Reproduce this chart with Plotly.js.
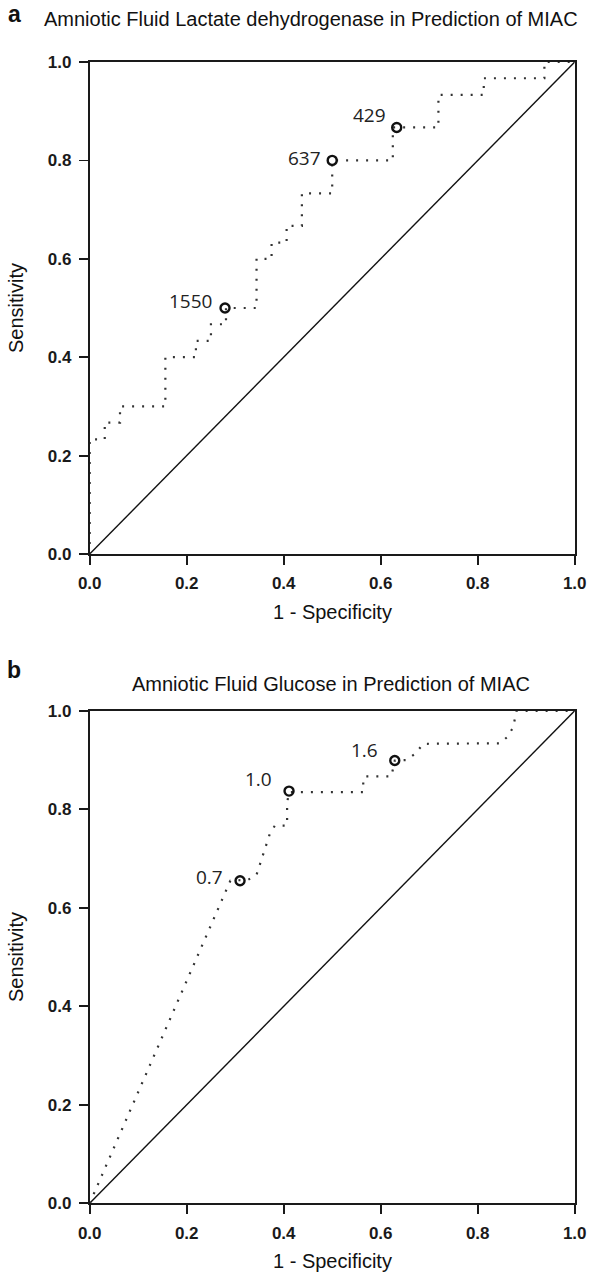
<!DOCTYPE html>
<html>
<head>
<meta charset="utf-8">
<script src="https://cdn.plot.ly/plotly-3.0.1.min.js"></script>
<style>html,body{margin:0;padding:0;background:#fff;}#chart{width:590px;height:1277px;}</style>
</head>
<body>
<div id="chart"></div>
<script>
// Panel a: Lactate dehydrogenase ROC
const fprA = [0, 0, 0.031, 0.031, 0.0625, 0.0625, 0.156, 0.156, 0.219, 0.219, 0.25, 0.25, 0.281, 0.281, 0.344, 0.344, 0.375, 0.375, 0.406, 0.406, 0.4375, 0.4375, 0.5, 0.5, 0.625, 0.625, 0.719, 0.719, 0.8125, 0.8125, 0.9375, 0.9375, 1.0];
const tprA = [0, 0.233, 0.233, 0.267, 0.267, 0.3, 0.3, 0.4, 0.4, 0.433, 0.433, 0.467, 0.467, 0.5, 0.5, 0.6, 0.6, 0.633, 0.633, 0.667, 0.667, 0.733, 0.733, 0.8, 0.8, 0.867, 0.867, 0.933, 0.933, 0.967, 0.967, 1.0, 1.0];
const cutXA = [0.279, 0.5, 0.633];
const cutYA = [0.5, 0.8, 0.867];
const cutLabelsA = ["1550", "637", "429"];

// Panel b: Glucose ROC
const fprB = [0, 0.29, 0.327, 0.344, 0.372, 0.382, 0.407, 0.407, 0.411, 0.564, 0.564, 0.567, 0.622, 0.629, 0.653, 0.671, 0.688, 0.846, 0.86, 0.873, 0.88, 1.0];
const tprB = [0, 0.655, 0.657, 0.667, 0.752, 0.767, 0.767, 0.813, 0.835, 0.835, 0.859, 0.867, 0.867, 0.899, 0.9, 0.913, 0.933, 0.934, 0.946, 0.966, 1.0, 1.0];
const cutXB = [0.31, 0.411, 0.629];
const cutYB = [0.655, 0.837, 0.899];
const cutLabelsB = ["0.7", "1.0", "1.6"];

const refLine = [0, 1];
const tickVals = [0, 0.2, 0.4, 0.6, 0.8, 1.0];
const tickText = ["0.0", "0.2", "0.4", "0.6", "0.8", "1.0"];

const titleA = "Amniotic Fluid Lactate dehydrogenase in Prediction of MIAC";
const titleB = "Amniotic Fluid Glucose in Prediction of MIAC";

const labelShiftA = [[-11, 7], [-9, 2], [-9, 12]];
const labelShiftB = [[-15, 4], [-15, 12], [-15, 11]];

const W = 590, H = 1277;
const xDom = [89.7 / W, 574.7 / W];
const yDomA = [(H - 554) / H, (H - 62) / H];
const yDomB = [(H - 1203.3) / H, (H - 710.8) / H];

const AX_COL = '#1a1a1a';
const tickFont = {family: 'Liberation Sans, Arial, sans-serif', size: 17, color: '#1a1a1a', weight: 'bold'};

function axisX(anchor) {
  return {domain: xDom, range: [0, 1], anchor: anchor, showgrid: false, zeroline: false,
    showline: true, mirror: true, linecolor: AX_COL, linewidth: 1.8,
    ticks: 'outside', ticklen: 9, tickwidth: 1.8, tickcolor: AX_COL, ticklabelstandoff: 4,
    tickvals: tickVals, ticktext: tickText, tickfont: tickFont, fixedrange: true};
}
function axisY(anchor, dom) {
  return {domain: dom, range: [0, 1], anchor: anchor, showgrid: false, zeroline: false,
    showline: true, mirror: true, linecolor: AX_COL, linewidth: 1.8,
    ticks: 'outside', ticklen: 9, tickwidth: 1.8, tickcolor: AX_COL, ticklabelstandoff: 4,
    tickvals: tickVals, ticktext: tickText, tickfont: tickFont, fixedrange: true};
}

const dotLine = {color: '#333', width: 2.2, dash: '2px,8px'};
const traces = [
  {x: refLine, y: refLine, xaxis: 'x', yaxis: 'y', mode: 'lines', line: {color: '#111', width: 1.4}, hoverinfo: 'skip'},
  {x: fprA, y: tprA, xaxis: 'x', yaxis: 'y', mode: 'lines', line: dotLine, cliponaxis: false},
  {x: cutXA, y: cutYA, xaxis: 'x', yaxis: 'y', mode: 'markers', cliponaxis: false,
   marker: {symbol: 'circle-open', size: 9, color: '#111', line: {width: 2.4, color: '#111'}}},
  {x: refLine, y: refLine, xaxis: 'x2', yaxis: 'y2', mode: 'lines', line: {color: '#111', width: 1.4}, hoverinfo: 'skip'},
  {x: fprB, y: tprB, xaxis: 'x2', yaxis: 'y2', mode: 'lines', line: dotLine, cliponaxis: false},
  {x: cutXB, y: cutYB, xaxis: 'x2', yaxis: 'y2', mode: 'markers', cliponaxis: false,
   marker: {symbol: 'circle-open', size: 9, color: '#111', line: {width: 2.4, color: '#111'}}}
];

const annFont = {family: 'Open Sans, DejaVu Sans, sans-serif', size: 19, color: '#222'};
const txtFont = {family: 'Liberation Sans, Arial, sans-serif', size: 20, color: '#111'};
const annotations = [];
cutLabelsA.forEach((t, i) => annotations.push({x: cutXA[i], y: cutYA[i], xref: 'x', yref: 'y', text: t, showarrow: false,
  xanchor: 'right', yanchor: 'middle', xshift: labelShiftA[i][0], yshift: labelShiftA[i][1], font: annFont}));
cutLabelsB.forEach((t, i) => annotations.push({x: cutXB[i], y: cutYB[i], xref: 'x2', yref: 'y2', text: t, showarrow: false,
  xanchor: 'right', yanchor: 'middle', xshift: labelShiftB[i][0], yshift: labelShiftB[i][1], font: annFont}));

function px(xp, yp) { return {x: xp / W, y: 1 - yp / H}; }
function addText(text, xp, yp, font, opts) {
  const p = px(xp, yp);
  annotations.push(Object.assign({x: p.x, y: p.y, xref: 'paper', yref: 'paper', text: text, showarrow: false,
    xanchor: 'center', yanchor: 'middle', font: font}, opts || {}));
}
// panel letters
addText('<b>a</b>', 14, 14, {family: 'Liberation Sans, Arial, sans-serif', size: 23, color: '#111'});
addText('<b>b</b>', 14, 670, {family: 'Liberation Sans, Arial, sans-serif', size: 23, color: '#111'});
// titles
addText(titleA, 311, 19, txtFont);
addText(titleB, 331, 684, txtFont);
// axis titles
addText('1 - Specificity', 332, 612, txtFont);
addText('1 - Specificity', 332, 1261, txtFont);
addText('Sensitivity', 16, 308, txtFont, {textangle: -90});
addText('Sensitivity', 16, 957, txtFont, {textangle: -90});

const layout = {
  width: W, height: H, margin: {l: 0, r: 0, t: 0, b: 0},
  paper_bgcolor: '#fff', plot_bgcolor: '#fff', showlegend: false,
  xaxis: axisX('y'), yaxis: axisY('x', yDomA),
  xaxis2: axisX('y2'), yaxis2: axisY('x2', yDomB),
  annotations: annotations
};
Plotly.newPlot('chart', traces, layout, {displayModeBar: false, staticPlot: true});
</script>
</body>
</html>
